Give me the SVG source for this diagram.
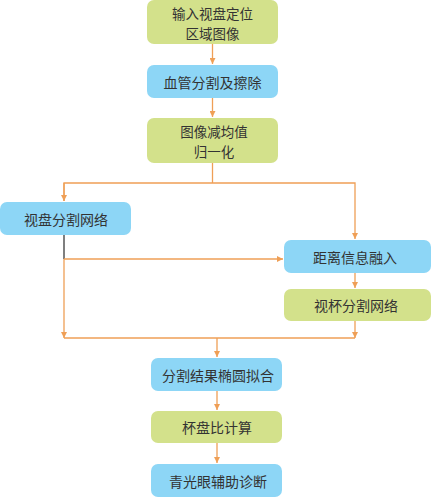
<svg xmlns="http://www.w3.org/2000/svg" width="431" height="497" viewBox="0 0 431 497">
<style>
.g{fill:#d3e18b}
.b{fill:#8dd6f6}
text{font-family:"Noto Sans CJK SC","Noto Sans CJK JP",sans-serif;font-size:14px;fill:#333;text-anchor:middle;dominant-baseline:central}
.t2{font-size:13.5px}
.c{fill:none;stroke:#ef9f56;stroke-width:1.3}
</style>
<defs>
<marker id="a" viewBox="0 0 8 8" refX="8" refY="4" markerWidth="6" markerHeight="6" markerUnits="userSpaceOnUse" orient="auto">
<path d="M0,0 L8,4 L0,8 z" fill="#ef9f56"/>
</marker>
</defs>
<g id="connectors">
<path class="c" d="M212.5,44 V64" marker-end="url(#a)"/>
<path class="c" d="M212.5,98 V117" marker-end="url(#a)"/>
<path class="c" d="M212.5,163 V183"/>
<path class="c" d="M64,201 V183 H355 V239" marker-end="url(#a)"/>
<path class="c" d="M64,183 V201" marker-end="url(#a)"/>
<path d="M64,235 V259" fill="none" stroke="#555" stroke-width="1.5"/>
<path class="c" d="M64,259 H283" marker-end="url(#a)"/>
<path class="c" d="M64,259 V338" marker-end="url(#a)"/>
<path class="c" d="M355,273 V288" marker-end="url(#a)"/>
<path class="c" d="M355,321 V338" marker-end="url(#a)"/>
<path class="c" d="M64,338 H355"/>
<path class="c" d="M217,338 V357" marker-end="url(#a)"/>
<path class="c" d="M217,391 V410" marker-end="url(#a)"/>
<path class="c" d="M217,443 V463" marker-end="url(#a)"/>
</g>
<g id="n1"><rect class="g" x="147" y="0" width="131" height="44" rx="7"/><text class="t2" x="212.5" y="12.5">输入视盘定位</text><text class="t2" x="212.5" y="32.5">区域图像</text></g>
<g id="n2"><rect class="b" x="147" y="65" width="131" height="33" rx="7"/><text x="212.5" y="82">血管分割及擦除</text></g>
<g id="n3"><rect class="g" x="147" y="118" width="131" height="45" rx="7"/><text class="t2" x="214" y="131">图像减均值</text><text class="t2" x="214" y="151">归一化</text></g>
<g id="n4"><rect class="b" x="0" y="202" width="131" height="33" rx="7"/><text x="66" y="219">视盘分割网络</text></g>
<g id="n5"><rect class="b" x="284" y="240" width="147" height="33" rx="7"/><text x="355" y="257">距离信息融入</text></g>
<g id="n6"><rect class="g" x="284" y="289" width="147" height="32" rx="7"/><text x="356" y="305">视杯分割网络</text></g>
<g id="n7"><rect class="b" x="151" y="358" width="131" height="33" rx="7"/><text x="218" y="375">分割结果椭圆拟合</text></g>
<g id="n8"><rect class="g" x="151" y="411" width="131" height="32" rx="7"/><text x="217" y="427">杯盘比计算</text></g>
<g id="n9"><rect class="b" x="151" y="464" width="131" height="33" rx="7"/><text x="218" y="481">青光眼辅助诊断</text></g>
</svg>
